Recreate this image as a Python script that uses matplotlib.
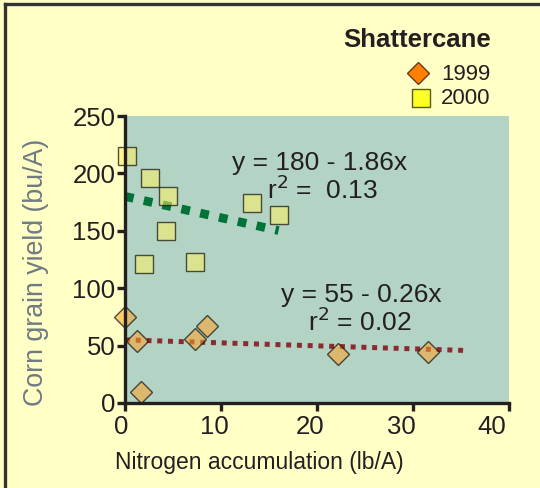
"""Shattercane: corn grain yield vs nitrogen accumulation, 1999 and 2000."""
import matplotlib

matplotlib.use("Agg")
import matplotlib.pyplot as plt
import numpy as np
from matplotlib.lines import Line2D
from matplotlib.transforms import ScaledTranslation

plt.rcParams["font.family"] = ["Liberation Sans", "DejaVu Sans"]

# nitrogen accumulation (lb/A) and corn grain yield (bu/A)
N_1999 = [0.0, 1.2, 1.7, 7.3, 8.5, 22.2, 31.6]
Y_1999 = [75, 54, 10, 56, 67, 43, 44]
N_2000 = [0.2, 2.6, 4.5, 4.3, 2.0, 7.3, 13.2, 16.0]
Y_2000 = [215, 196, 180, 150, 121, 123, 174, 164]

# fitted lines: (intercept, slope, x range)
FIT_1999 = (55, -0.26, (0, 35.6))
FIT_2000 = (180, -1.86, (0, 16.0))

X_TICKS = [0, 10, 20, 30, 40]
Y_TICKS = [0, 50, 100, 150, 200, 250]
# the x tick labels in the source sit a little left of their ticks (pixels)
X_LABEL_SHIFT = [-4, -7, -7, -12, -17]

BG = "#ffffc6"
PLOT_BG = "#b3d4c4"
INK = "#231f20"

fig = plt.figure(figsize=(5.4, 4.88), dpi=100, facecolor=BG)
ax = fig.add_axes([0.2315, 0.1742, 0.711, 0.588])
ax.set_facecolor(PLOT_BG)

# trend lines
for (b0, b1, (x0, x1)), col, lw, dash in [
    (FIT_2000, "#007438", 6.3, (0, (1.0, 1.2))),
    (FIT_1999, "#8b2a32", 3.6, (0, (1.0, 1.15))),
]:
    xs = np.array([x0, x1])
    ax.plot(xs, b0 + b1 * xs, color=col, lw=lw, ls=dash,
            dash_capstyle="butt", zorder=2)

# data points drawn semi-transparent on top of the lines
ax.plot(N_2000, Y_2000, "s", ms=12.5, mfc=(1.0, 0.94, 0.39, 0.55),
        mec=(0.1, 0.1, 0.08, 0.75), mew=1.0, ls="none", clip_on=False, zorder=3)
ax.plot(N_1999, Y_1999, "D", ms=11.5, mfc=(1.0, 0.63, 0.16, 0.55),
        mec=(0.1, 0.1, 0.08, 0.75), mew=1.0, ls="none", clip_on=False, zorder=3)

ax.set_xlim(0, 40)
ax.set_ylim(0, 250)
ax.set_xticks(X_TICKS)
ax.set_yticks(Y_TICKS)
for side in ("top", "right"):
    ax.spines[side].set_visible(False)
for side in ("left", "bottom"):
    ax.spines[side].set_linewidth(2.4)
    ax.spines[side].set_color(INK)
    ax.spines[side].set_zorder(4)
ax.tick_params(direction="out", length=6, width=2.4, color=INK,
               labelsize=18.5, labelcolor=INK)
ax.tick_params(axis="x", pad=3)
ax.tick_params(axis="y", pad=1)
for lab, dx in zip(ax.get_xticklabels(), X_LABEL_SHIFT):
    lab.set_transform(lab.get_transform() + ScaledTranslation(dx / 100, 0, fig.dpi_scale_trans))

ax.set_xlabel("Nitrogen accumulation (lb/A)", fontsize=16.5, color=INK, va="center")
ax.xaxis.set_label_coords(0.349, -0.206)
ax.set_ylabel("Corn grain yield (bu/A)", fontsize=19.3, color="#6f7a82", va="center")
ax.yaxis.set_label_coords(-0.232, 0.456)

# regression annotations
ax.text(20.3, 209, "y = 180 - 1.86x", fontsize=19, color=INK, ha="center", va="center")
ax.text(14.8, 186, "r$^2$ =  0.13", fontsize=19, color=INK, ha="left", va="center")
ax.text(24.6, 94, "y = 55 - 0.26x", fontsize=19, color=INK, ha="center", va="center")
ax.text(24.5, 71, "r$^2$ = 0.02", fontsize=19, color=INK, ha="center", va="center")

# title and legend block in the top right corner
fig.text(0.909, 0.918, "Shattercane", fontsize=18.5, weight="bold", color=INK,
         ha="right", va="center")
fig.lines.append(Line2D([0.774], [1 - 73 / 488], marker="D", ms=11, mfc="#ff8000",
                        mec="#6b3a10", mew=1.0, transform=fig.transFigure))
fig.lines.append(Line2D([0.779], [1 - 98 / 488], marker="s", ms=13, mfc="#ffff22",
                        mec="#5a5a20", mew=1.0, transform=fig.transFigure))
fig.text(0.909, 1 - 75 / 488, "1999", fontsize=16, color=INK, ha="right", va="center")
fig.text(0.909, 1 - 98 / 488, "2000", fontsize=16, color=INK, ha="right", va="center")

# frame: only the top and left edges show in the crop
fig.lines.append(Line2D([5 / 540, 1], [1 - 4 / 488, 1 - 4 / 488], color="#333333",
                        lw=2.4, transform=fig.transFigure))
fig.lines.append(Line2D([5 / 540, 5 / 540], [0, 1 - 4 / 488], color="#333333",
                        lw=2.4, transform=fig.transFigure))

fig.savefig("out.png", dpi=100, facecolor=BG)
